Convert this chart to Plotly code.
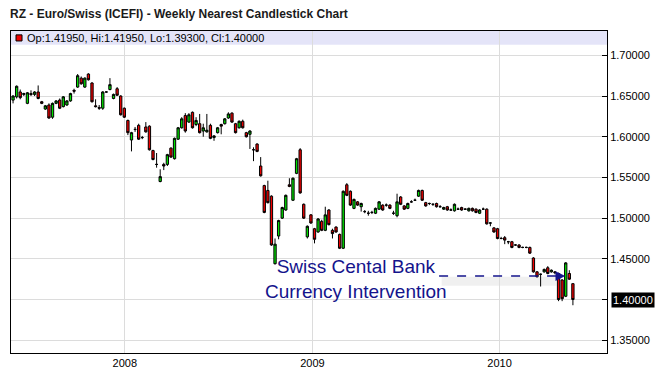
import pandas as pd
import plotly.graph_objects as go

# ---- data (weekly OHLC) ----
opens = [1.645,1.649,1.655,1.652,1.641,1.653,1.652,1.655,1.643,1.634,
         1.639,1.624,1.641,1.645,1.637,1.639,1.644,1.657,1.661,1.672,
         1.661,1.677,1.666,1.638,1.636,1.635,1.655,1.658,1.647,1.659,
         1.650,1.635,1.620,1.596,1.609,1.614,1.599,1.612,1.613,1.583,
         1.566,
         1.545,1.566,1.566,1.586,1.573,1.597,1.611,1.626,1.618,1.630,
         1.615,1.616,1.607,1.606,1.614,1.599,1.605,1.615,1.616,1.623,
         1.629,1.616,1.611,1.619,1.605,1.603,1.584,1.591,1.564,1.540,
         1.534,1.527,1.444,1.478,1.500,1.510,1.541,1.522,1.555,1.584,
         1.517,1.477,1.504,1.487,1.483,1.496,1.485,1.510,1.485,1.489,
         1.480,1.463,1.541,1.533,1.512,1.520,1.514,1.508,1.506,1.507,
         1.506,1.511,1.516,1.516,1.516,1.506,1.503,1.526,1.515,1.512,
         1.520,1.522,1.527,1.534,1.519,1.518,1.517,1.518,1.514,1.511,
         1.514,1.510,
         1.509,1.511,1.513,1.511,1.509,1.512,1.511,1.506,1.511,1.511,
         1.494,1.488,1.487,1.475,1.476,1.471,1.471,1.467,1.467,1.464,
         1.464,1.464,1.451,1.434,1.431,1.434,1.439,1.434,1.434,1.432,
         1.424,1.404,1.432,1.4195]
highs = [1.651,1.663,1.658,1.654,1.655,1.657,1.656,1.663,1.644,1.639,
         1.641,1.642,1.645,1.647,1.650,1.645,1.654,1.659,1.677,1.674,
         1.673,1.678,1.667,1.646,1.639,1.656,1.656,1.672,1.653,1.661,
         1.651,1.636,1.621,1.606,1.612,1.616,1.601,1.618,1.614,1.584,
         1.580,
         1.560,1.568,1.579,1.587,1.599,1.612,1.624,1.629,1.629,1.631,
         1.624,1.628,1.616,1.628,1.616,1.602,1.612,1.616,1.623,1.630,
         1.630,1.617,1.620,1.621,1.606,1.608,1.587,1.592,1.575,1.541,
         1.546,1.528,1.475,1.498,1.514,1.529,1.549,1.550,1.574,1.586,
         1.518,1.491,1.505,1.488,1.500,1.498,1.514,1.511,1.487,1.490,
         1.481,1.534,1.543,1.534,1.524,1.521,1.519,1.510,1.509,1.509,
         1.513,1.521,1.517,1.518,1.517,1.509,1.530,1.527,1.516,1.519,
         1.522,1.524,1.535,1.535,1.520,1.519,1.518,1.519,1.516,1.514,
         1.515,1.512,
         1.518,1.513,1.514,1.512,1.513,1.513,1.512,1.511,1.513,1.512,
         1.495,1.489,1.488,1.477,1.478,1.472,1.472,1.468,1.468,1.465,
         1.465,1.465,1.452,1.435,1.432,1.438,1.441,1.437,1.435,1.433,
         1.425,1.446,1.436,1.4195]
lows = [1.641,1.647,1.646,1.650,1.640,1.650,1.650,1.646,1.640,1.633,
        1.622,1.622,1.640,1.634,1.636,1.638,1.643,1.653,1.660,1.664,
        1.660,1.669,1.642,1.636,1.633,1.633,1.654,1.657,1.646,1.650,
        1.626,1.623,1.602,1.582,1.606,1.596,1.597,1.605,1.583,1.571,
        1.562,
        1.544,1.559,1.564,1.574,1.572,1.596,1.610,1.605,1.617,1.610,
        1.613,1.604,1.600,1.605,1.597,1.595,1.604,1.603,1.615,1.622,
        1.617,1.604,1.610,1.610,1.599,1.585,1.570,1.581,1.551,1.506,
        1.518,1.466,1.443,1.474,1.499,1.509,1.538,1.521,1.554,1.530,
        1.499,1.475,1.493,1.469,1.482,1.484,1.484,1.491,1.475,1.482,
        1.462,1.462,1.527,1.515,1.511,1.515,1.508,1.506,1.503,1.505,
        1.505,1.510,1.509,1.514,1.511,1.504,1.501,1.516,1.510,1.511,
        1.519,1.521,1.526,1.521,1.514,1.516,1.515,1.513,1.513,1.510,
        1.509,1.509,
        1.508,1.510,1.509,1.510,1.508,1.508,1.506,1.505,1.510,1.492,
        1.490,1.482,1.474,1.474,1.468,1.468,1.463,1.466,1.463,1.463,
        1.463,1.456,1.433,1.427,1.416,1.433,1.431,1.433,1.431,1.398,
        1.398,1.403,1.424,1.393]
closes = [1.650,1.662,1.648,1.653,1.654,1.652,1.655,1.647,1.641,1.638,
          1.623,1.641,1.644,1.635,1.649,1.644,1.653,1.656,1.675,1.665,
          1.672,1.670,1.643,1.637,1.635,1.655,1.655,1.664,1.652,1.651,
          1.627,1.624,1.605,1.605,1.609,1.597,1.599,1.606,1.584,1.572,
          1.566,
          1.551,1.564,1.578,1.575,1.598,1.611,1.622,1.607,1.627,1.611,
          1.620,1.605,1.611,1.608,1.598,1.601,1.611,1.613,1.622,1.628,
          1.618,1.605,1.619,1.611,1.600,1.607,1.584,1.582,1.552,1.507,
          1.519,1.467,1.468,1.497,1.513,1.528,1.539,1.549,1.573,1.531,
          1.500,1.490,1.494,1.474,1.499,1.485,1.504,1.492,1.481,1.483,
          1.463,1.533,1.528,1.516,1.523,1.516,1.518,1.508,1.506,1.507,
          1.512,1.520,1.510,1.516,1.512,1.506,1.520,1.517,1.511,1.518,
          1.520,1.522,1.534,1.522,1.515,1.518,1.517,1.514,1.514,1.513,
          1.510,1.510,
          1.517,1.511,1.510,1.511,1.512,1.509,1.507,1.510,1.511,1.493,
          1.494,1.483,1.475,1.475,1.473,1.471,1.464,1.467,1.464,1.464,
          1.464,1.457,1.434,1.428,1.431,1.437,1.432,1.436,1.433,1.400,
          1.401,1.445,1.425,1.400]
dates = pd.date_range(start="2007-05-28", periods=len(closes), freq="7D")

y_ticks = [1.35, 1.40, 1.45, 1.50, 1.55, 1.60, 1.65, 1.70]
# 1.40000 is shown by the last-price marker instead of a plain tick label
y_tick_labels = ["1.35000", "", "1.45000", "1.50000", "1.55000", "1.60000", "1.65000", "1.70000"]
x_ticks = ["2008-01-01", "2009-01-01", "2010-01-01"]
x_tick_labels = ["2008", "2009", "2010"]

title_text = "RZ - Euro/Swiss (ICEFI) - Weekly Nearest Candlestick Chart"
legend_text = "Op:1.41950, Hi:1.41950, Lo:1.39300, Cl:1.40000"
note_text = "Swiss Cental Bank<br>Currency Intervention"
last_price = 1.40
last_price_label = "1.40000"

FONT = "Liberation Sans, Arial, sans-serif"
NAVY = "#14148c"

fig = go.Figure()
fig.add_trace(go.Candlestick(
    x=dates, open=opens, high=highs, low=lows, close=closes,
    increasing=dict(line=dict(color="black", width=1), fillcolor="#00e000"),
    decreasing=dict(line=dict(color="black", width=1), fillcolor="#f00000"),
    whiskerwidth=0, hoverinfo="skip", showlegend=False,
))

# legend band
fig.add_shape(type="rect", xref="paper", yref="paper", x0=0, x1=1, y0=0.957, y1=1,
              fillcolor="#e4e4f8", line=dict(width=0), layer="below")
fig.add_shape(type="rect", xref="paper", yref="paper", x0=0.0084, x1=0.0185, y0=0.969, y1=0.988,
              fillcolor="#ee0000", line=dict(color="black", width=1))
fig.add_annotation(xref="paper", yref="paper", x=0.024, y=0.978, xanchor="left", yanchor="middle",
                   text=legend_text, showarrow=False, font=dict(family=FONT, size=11, color="black"))

# intervention note + dashed arrow (with a faint shadow below it)
fig.add_shape(type="line", xref="x", yref="y", x0="2009-09-10", x1="2010-04-22", y0=1.4225, y1=1.4225,
              line=dict(color="rgba(170,170,170,0.18)", width=9), layer="below")
fig.add_shape(type="line", xref="x", yref="y", x0="2009-09-05", x1="2010-05-01", y0=1.4289, y1=1.4289,
              line=dict(color=NAVY, width=1.5, dash="dash"))
fig.add_annotation(x="2010-05-09", y=1.4289, ax="2010-04-26", ay=1.4289, xref="x", yref="y",
                   axref="x", ayref="y", text="", showarrow=True, arrowhead=2, arrowsize=1.3,
                   arrowwidth=1.5, arrowcolor=NAVY)
fig.add_annotation(x="2009-03-27", y=1.4252, xref="x", yref="y", text=note_text, showarrow=False,
                   align="center", font=dict(family=FONT, size=19, color=NAVY))

# last price marker
fig.add_annotation(xref="paper", yref="y", x=1, y=last_price, xanchor="left", yanchor="middle",
                   xshift=4, text=last_price_label, showarrow=False, bgcolor="black", borderpad=1,
                   font=dict(family=FONT, size=11, color="white"))

fig.update_layout(
    width=663, height=376,
    margin=dict(l=11, r=56, t=31, b=23, autoexpand=False),
    paper_bgcolor="white", plot_bgcolor="white",
    font=dict(family=FONT, size=11, color="black"),
    title=dict(text="<b>" + title_text + "</b>", xref="container", yref="container",
               x=10 / 663, y=1 - 14 / 376, xanchor="left", yanchor="middle", automargin=False,
               font=dict(family=FONT, size=12, color="#1a1a1a")),
    showlegend=False, hovermode=False, boxgap=0.08,
)
fig.update_xaxes(type="date", range=["2007-05-24", "2010-07-29 12:00"], rangeslider=dict(visible=False),
                 tickvals=x_ticks, ticktext=x_tick_labels, showgrid=True, gridcolor="#dcdcdc",
                 gridwidth=1, showline=True, linecolor="black", linewidth=1, mirror=True,
                 ticks="", zeroline=False, tickfont=dict(size=11), automargin=False)
fig.update_yaxes(side="right", range=[1.3343, 1.7299], tickvals=y_ticks, ticktext=y_tick_labels,
                 showgrid=True, gridcolor="#dcdcdc", gridwidth=1, showline=True, linecolor="black",
                 linewidth=1, mirror=True, ticks="inside", ticklen=5, tickcolor="black",
                 zeroline=False, tickfont=dict(size=11), automargin=False)

# remove the browser's default 8px page margin so the figure sits at the window's top-left corner
fig.write_html("out.html", config={"displayModeBar": False},
               post_script="document.body.style.margin='0';")
